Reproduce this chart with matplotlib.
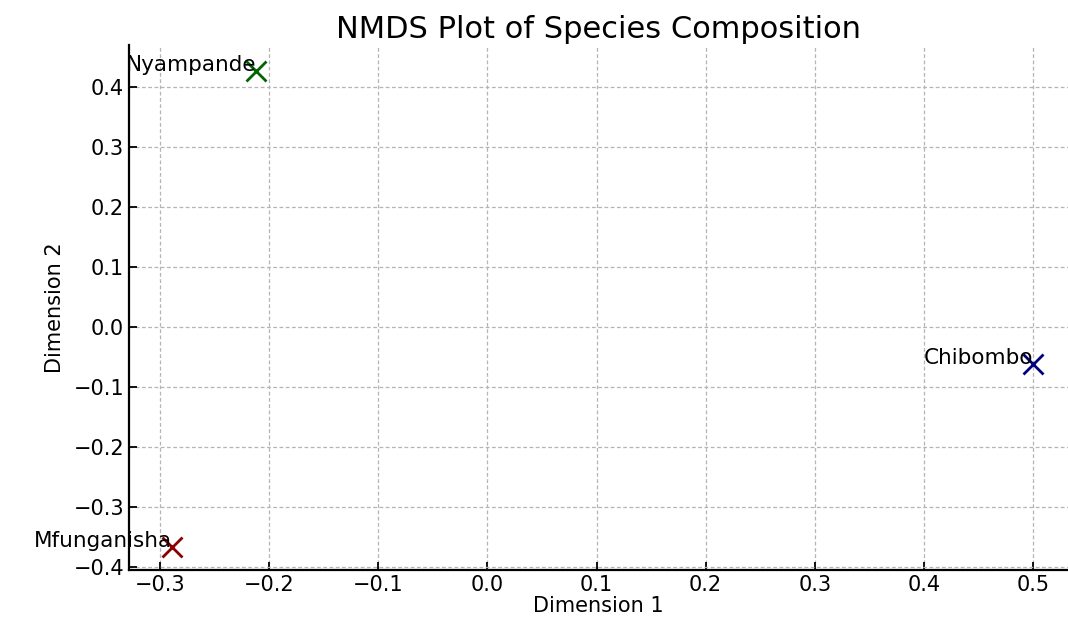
#!/usr/bin/env python
# -*- coding: utf-8 -*-
"""NMDS plot of species composition"""

import matplotlib as mpl
mpl.use("Agg")
import matplotlib.pyplot as plt

# site scores
sites = ['Nyampande', 'Mfunganisha', 'Chibombo']
dim1 = [-0.212, -0.289, 0.500]
dim2 = [0.427, -0.366, -0.062]
colors = ['darkgreen', 'darkred', 'navy']

xticks = [-0.3, -0.2, -0.1, 0.0, 0.1, 0.2, 0.3, 0.4, 0.5]
yticks = [-0.4, -0.3, -0.2, -0.1, 0.0, 0.1, 0.2, 0.3, 0.4]


def __main__():
    fig = plt.figure(figsize=(10.68, 6.17), dpi=100)
    ax = fig.add_axes([0.1208, 0.0762, 0.8792, 0.8509])

    for name, x, y, c in zip(sites, dim1, dim2, colors):
        ax.plot(x, y, marker='x', color=c, markersize=15, mew=2, linestyle='none')
        ax.text(x, y, name, fontsize=15.5, ha='right', va='baseline')

    ax.set_xlim(-0.3284, 0.532)
    ax.set_ylim(-0.405, 0.47)
    ax.set_xticks(xticks)
    ax.set_yticks(yticks)

    ax.set_title('NMDS Plot of Species Composition', fontsize=22, pad=5)
    ax.set_xlabel('Dimension 1', fontsize=15, labelpad=1)
    ax.set_ylabel('Dimension 2', fontsize=15, labelpad=6)

    ax.spines['top'].set_visible(False)
    ax.spines['right'].set_visible(False)
    ax.spines['left'].set_linewidth(1.6)
    ax.spines['bottom'].set_linewidth(1.6)
    ax.tick_params(direction='in', length=6, width=1.3, labelsize=15)
    ax.grid(True, linestyle=(0, (3, 2)), color='#b4b4b4', linewidth=0.9)
    ax.set_axisbelow(True)

    fig.savefig('out.png', dpi=100)


if __name__ == '__main__':
    __main__()
